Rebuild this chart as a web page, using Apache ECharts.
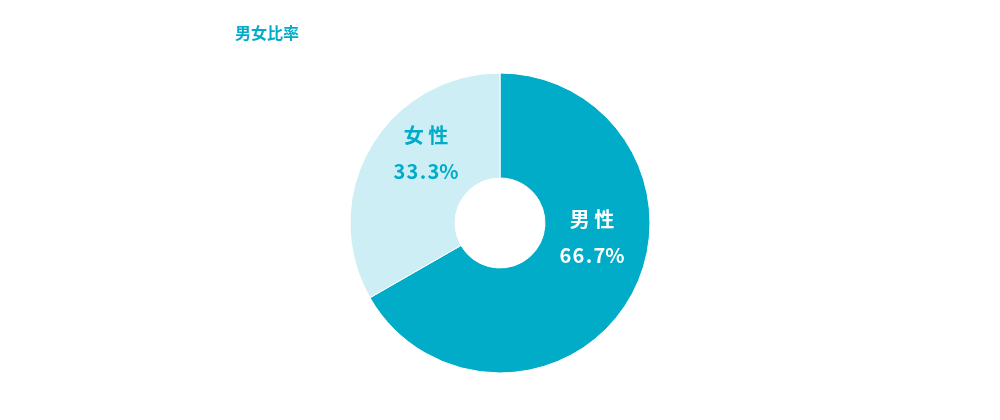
<!DOCTYPE html>
<html><head><meta charset="utf-8">
<script src="https://cdn.jsdelivr.net/npm/echarts@6/dist/echarts.min.js"></script>
<style>html,body{margin:0;padding:0;background:#fff}#c{width:1000px;height:420px}</style>
</head><body><div id="c"></div>
<script>
const title = '男女比率';
const categories = ['男性', '女性'];
const values = [66.7, 33.3];
const colors = ['#00acc8', '#cdeef5'];
const labelColors = ['#ffffff', '#00acc8'];
const offsets = [[5, -36], [13, -19]];
const chart = echarts.init(document.getElementById('c'));
chart.setOption({
  animation: false,
  title: { text: title, left: 230, top: 20, textStyle: { color: '#00acc8', fontSize: 16, fontWeight: 'bold', fontFamily: 'Noto Sans CJK JP' } },
  series: [{
    type: 'pie', center: [500, 223], radius: [45, 150], startAngle: 90, clockwise: true,
    itemStyle: { borderColor: '#fff', borderWidth: 1 },
    label: { show: true, position: 'inside' },
    labelLine: { show: false },
    data: categories.map((n, i) => ({
      name: n, value: values[i],
      itemStyle: { color: colors[i] },
      label: {
        offset: offsets[i],
        formatter: '{a|' + n.split('').join(' ') + '}\n{b|' + values[i].toFixed(1).split('').join('\u200a') + '%}',
        rich: {
          a: { color: labelColors[i], fontSize: 20, fontWeight: 'bold', fontFamily: 'Noto Sans CJK JP', lineHeight: 36 },
          b: { color: labelColors[i], fontSize: 20, fontWeight: 'bold', fontFamily: 'Noto Sans CJK JP', lineHeight: 36 }
        }
      }
    }))
  }]
});
</script></body></html>
